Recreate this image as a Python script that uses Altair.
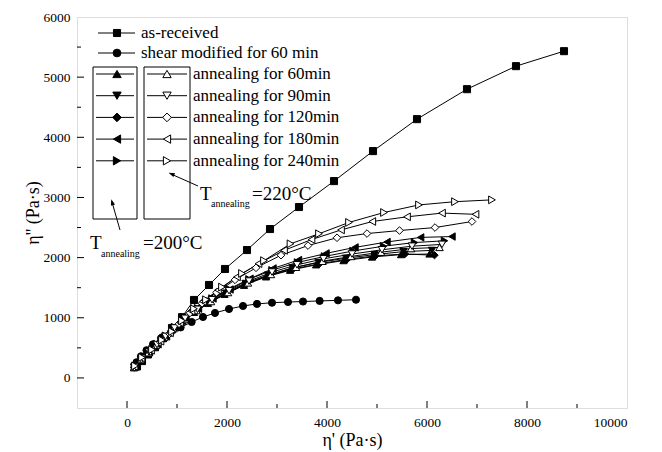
import altair as alt
import pandas as pd

FONT = "Liberation Serif"

# ---------------- data ----------------
asrec_x = [200, 300, 420, 560, 720, 900, 1100, 1340, 1640, 1960, 2400, 2860, 3440, 4140, 4920, 5800, 6800, 7780, 8740]
asrec_y = [190, 280, 390, 510, 660, 830, 1010, 1296, 1545, 1811, 2126, 2475, 2841, 3272, 3771, 4302, 4800, 5183, 5432]

shear_x = [190, 280, 390, 520, 680, 873, 1073, 1293, 1520, 1760, 2040, 2320, 2600, 2900, 3220, 3520, 3853, 4220, 4580]
shear_y = [260, 360, 460, 560, 660, 750, 840, 930, 1013, 1080, 1146, 1196, 1230, 1250, 1262, 1270, 1280, 1290, 1300]

# T_annealing = 200 C (filled symbols)
a200_60_x = [140, 275, 420, 570, 730, 900, 1110, 1340, 1620, 1950, 2340, 2780, 3260, 3780, 4330, 4900, 5480, 6050]
a200_60_y = [170, 300, 410, 535, 665, 800, 945, 1090, 1240, 1390, 1540, 1680, 1790, 1880, 1950, 2010, 2050, 2060]
a200_90_x = [145, 280, 430, 580, 740, 920, 1130, 1370, 1650, 1980, 2370, 2820, 3310, 3830, 4380, 4950, 5530, 6100]
a200_90_y = [175, 305, 420, 545, 675, 815, 960, 1110, 1260, 1410, 1570, 1710, 1830, 1920, 1990, 2050, 2100, 2120]
a200_120_x = [145, 280, 430, 580, 740, 920, 1130, 1370, 1650, 1980, 2380, 2830, 3320, 3850, 4400, 4970, 5560, 6150]
a200_120_y = [172, 305, 415, 540, 670, 810, 955, 1100, 1250, 1400, 1560, 1700, 1810, 1900, 1970, 2030, 2060, 2040]
a200_180_x = [160, 300, 450, 620, 790, 970, 1180, 1430, 1720, 2060, 2460, 2920, 3430, 3980, 4560, 5200, 5873, 6500]
a200_180_y = [190, 320, 430, 560, 690, 840, 1000, 1150, 1320, 1470, 1650, 1820, 1960, 2070, 2170, 2260, 2336, 2350]
a200_240_x = [150, 290, 440, 600, 770, 950, 1160, 1410, 1700, 2040, 2440, 2900, 3410, 3950, 4520, 5130, 5750, 6350]
a200_240_y = [185, 320, 435, 560, 700, 845, 1000, 1160, 1320, 1480, 1640, 1790, 1920, 2020, 2110, 2190, 2250, 2280]

# T_annealing = 220 C (open symbols)
a220_60_x = [145, 280, 430, 580, 750, 930, 1140, 1390, 1680, 2020, 2420, 2880, 3380, 3910, 4480, 5080, 5680, 6250]
a220_60_y = [175, 305, 420, 545, 680, 820, 970, 1120, 1270, 1420, 1580, 1720, 1840, 1940, 2020, 2090, 2150, 2170]
a220_90_x = [150, 290, 440, 600, 770, 950, 1160, 1410, 1700, 2040, 2440, 2900, 3400, 3930, 4500, 5100, 5700, 6300]
a220_90_y = [180, 315, 430, 555, 690, 830, 990, 1140, 1300, 1450, 1610, 1760, 1880, 1980, 2060, 2130, 2190, 2220]
a220_120_x = [150, 285, 470, 660, 850, 1040, 1260, 1500, 1790, 2160, 2580, 3080, 3620, 4200, 4800, 5450, 6160, 6900]
a220_120_y = [185, 320, 450, 600, 735, 900, 1080, 1240, 1420, 1630, 1830, 2040, 2200, 2330, 2400, 2450, 2500, 2600]
a220_180_x = [150, 290, 480, 670, 860, 1060, 1290, 1520, 1820, 2200, 2630, 3140, 3690, 4280, 4906, 5600, 6300, 6970]
a220_180_y = [190, 330, 460, 610, 750, 920, 1110, 1270, 1460, 1680, 1900, 2120, 2300, 2460, 2600, 2678, 2740, 2720]
a220_240_x = [160, 300, 500, 700, 900, 1100, 1340, 1580, 1900, 2300, 2740, 3270, 3840, 4440, 5140, 5840, 6560, 7300]
a220_240_y = [200, 340, 470, 630, 770, 950, 1150, 1300, 1510, 1736, 1950, 2230, 2397, 2585, 2750, 2876, 2930, 2960]

x_labels = [0, 2000, 4000, 6000, 8000, 10000]
y_labels = [0, 1000, 2000, 3000, 4000, 5000, 6000]
x_major = [0, 2000, 4000, 6000, 8000]
x_minor = [1000, 3000, 5000, 7000, 9000]
y_major = [0, 1000, 2000, 3000, 4000, 5000]
y_minor = [500, 1500, 2500, 3500, 4500, 5500]

# series: id, legend text, x, y, shape, fill
series = [
    ("as-received", "as-received", asrec_x, asrec_y, "square", "black"),
    ("shear", "shear modified for 60 min", shear_x, shear_y, "circle", "black"),
    ("200_60", "annealing for 60min", a200_60_x, a200_60_y, "triangle-up", "black"),
    ("200_90", "annealing for 90min", a200_90_x, a200_90_y, "triangle-down", "black"),
    ("200_120", "annealing for 120min", a200_120_x, a200_120_y, "diamond", "black"),
    ("200_180", "annealing for 180min", a200_180_x, a200_180_y, "triangle-left", "black"),
    ("200_240", "annealing for 240min", a200_240_x, a200_240_y, "triangle-right", "black"),
    ("220_60", "annealing for 60min", a220_60_x, a220_60_y, "triangle-up", "white"),
    ("220_90", "annealing for 90min", a220_90_x, a220_90_y, "triangle-down", "white"),
    ("220_120", "annealing for 120min", a220_120_x, a220_120_y, "diamond", "white"),
    ("220_180", "annealing for 180min", a220_180_x, a220_180_y, "triangle-left", "white"),
    ("220_240", "annealing for 240min", a220_240_x, a220_240_y, "triangle-right", "white"),
]
sizes = {"square": 50, "circle": 60, "triangle-up": 70, "triangle-down": 70,
         "diamond": 75, "triangle-left": 70, "triangle-right": 70}

rows = []
for sid, _, xs, ys, _, _ in series:
    for i, (xv, yv) in enumerate(zip(xs, ys)):
        rows.append({"series": sid, "idx": i, "x": xv, "y": yv})
df = pd.DataFrame(rows)

ids = [s[0] for s in series]
shapes = [s[4] for s in series]
fills = [s[5] for s in series]
msizes = [sizes[s[4]] for s in series]

W, H = 550, 391
x_scale = alt.Scale(domain=[-1000, 10000], nice=False, zero=False)
y_scale = alt.Scale(domain=[-500, 6000], nice=False, zero=False)

x_axis = alt.Axis(values=x_labels, format="d", title="η' (Pa·s)", ticks=False, domain=False,
                  grid=False, labelFont=FONT, labelFontSize=13.5, labelPadding=7, labelColor="black",
                  titleFont=FONT, titleFontSize=18, titleFontWeight="normal", titleColor="black",
                  titleX=W / 2, titleY=32, titleBaseline="middle", titleAlign="center")
y_axis = alt.Axis(values=y_labels, format="d", title="η'' (Pa·s)", ticks=False, domain=False,
                  grid=False, labelFont=FONT, labelFontSize=13.5, labelPadding=7, labelColor="black",
                  titleFont=FONT, titleFontSize=18, titleFontWeight="normal", titleColor="black",
                  titleAngle=-90, titleX=-44, titleY=H / 2, titleBaseline="middle", titleAlign="center")

base = alt.Chart(df)
lines = base.mark_line(color="black", strokeWidth=1).encode(
    x=alt.X("x:Q", scale=x_scale, axis=x_axis),
    y=alt.Y("y:Q", scale=y_scale, axis=y_axis),
    detail="series:N",
    order=alt.Order("idx:Q"),
)
points = base.mark_point(filled=True, stroke="black", strokeWidth=1, opacity=1, fillOpacity=1).encode(
    x=alt.X("x:Q", scale=x_scale),
    y=alt.Y("y:Q", scale=y_scale),
    shape=alt.Shape("series:N", scale=alt.Scale(domain=ids, range=shapes), legend=None),
    fill=alt.Fill("series:N", scale=alt.Scale(domain=ids, range=fills), legend=None),
    size=alt.Size("series:N", scale=alt.Scale(domain=ids, range=msizes), legend=None),
)

# inward tick marks
def xticks(vals, length):
    return alt.Chart(pd.DataFrame({"t": vals})).mark_rule(color="black", strokeWidth=1).encode(
        x=alt.X("t:Q", scale=x_scale), y=alt.value(H), y2=alt.value(H - length))

def yticks(vals, length):
    return alt.Chart(pd.DataFrame({"t": vals})).mark_rule(color="black", strokeWidth=1).encode(
        y=alt.Y("t:Q", scale=y_scale), x=alt.value(0), x2=alt.value(length))

one = pd.DataFrame({"a": [0]})

def txt(s, x, y, size=17, baseline="middle"):
    return alt.Chart(one).mark_text(text=s, font=FONT, fontSize=size, align="left",
                                    baseline=baseline, color="black").encode(
        x=alt.value(x), y=alt.value(y))

def seg(x1, y1, x2, y2, w=1):
    return alt.Chart(one).mark_rule(color="black", strokeWidth=w).encode(
        x=alt.value(x1), y=alt.value(y1), x2=alt.value(x2), y2=alt.value(y2))

def sym(shape, fill, x, y, size, angle=0):
    return alt.Chart(one).mark_point(shape=shape, filled=True, fill=fill, stroke="black",
                                     strokeWidth=1, size=size, opacity=1, angle=angle).encode(
        x=alt.value(x), y=alt.value(y))

def box(x1, y1, x2, y2):
    return alt.Chart(one).mark_rect(fillOpacity=0, stroke="black", strokeWidth=1).encode(
        x=alt.value(x1), y=alt.value(y1), x2=alt.value(x2), y2=alt.value(y2))

leg = []
# top two legend entries
for k, s in enumerate(series[:2]):
    yy = 16 + 20 * k
    leg += [seg(21, yy, 58, yy), sym(s[4], s[5], 40, yy, sizes[s[4]]), txt(s[1], 64, yy)]
# boxed columns
leg += [box(16, 50, 60, 202), box(67, 50, 113, 202)]
for k in range(5):
    yy = 57 + 21.7 * k
    f = series[2 + k]
    o = series[7 + k]
    leg += [seg(19, yy, 57, yy), sym(f[4], f[5], 40, yy, sizes[f[4]])]
    leg += [seg(70, yy, 110, yy), sym(o[4], o[5], 90, yy, sizes[o[4]]), txt(o[1], 116, yy)]

# annotations
arrow_head = "M0,0L-0.45,1.3L0.45,1.3Z"
ann = [
    txt("T", 123, 183, size=19, baseline="alphabetic"),
    txt("annealing", 134, 190, size=10, baseline="alphabetic"),
    txt("=220°C", 175, 183, size=19, baseline="alphabetic"),
    seg(121, 169, 94, 157),
    sym(arrow_head, "black", 93, 156.3, 40, angle=294),
    txt("T", 13, 232, size=19, baseline="alphabetic"),
    txt("annealing", 24, 240, size=10, baseline="alphabetic"),
    txt("=200°C", 66, 232, size=19, baseline="alphabetic"),
    seg(43, 213, 35, 185),
    sym(arrow_head, "black", 34.7, 183.7, 40, angle=344),
]

chart = alt.layer(
    lines, points,
    xticks(x_major, 7), xticks(x_minor, 4), yticks(y_major, 7), yticks(y_minor, 4),
    *leg, *ann,
).properties(
    width=W, height=H,
    autosize=alt.AutoSizeParams(type="none"),
    padding={"left": 77, "top": 17, "right": 35, "bottom": 44},
).configure_view(stroke="black", strokeWidth=1.5).configure(background="white")

chart.save("out.html", embed_options={"renderer": "svg", "actions": False})
